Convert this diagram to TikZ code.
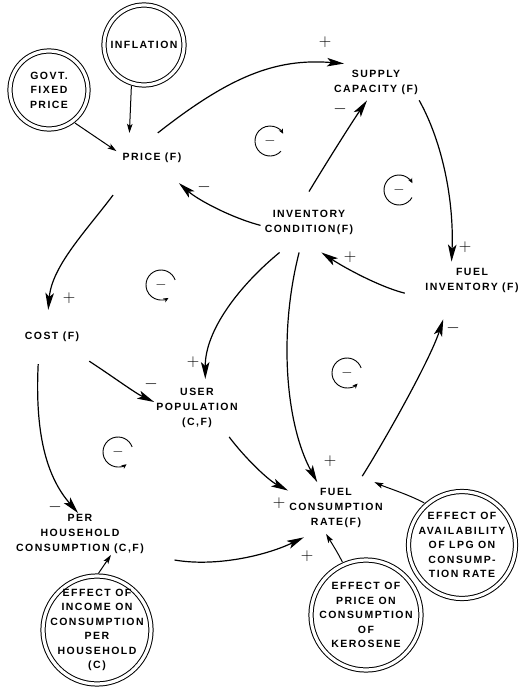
\documentclass[tikz,border=0pt]{standalone}
\usepackage{fontspec}
\usetikzlibrary{arrows.meta}
\newfontfamily\lettering[LetterSpace=14]{Liberation Sans}

\begin{document}
\begin{tikzpicture}[x=1pt, y=-1pt,
  var/.style={font=\lettering\bfseries\fontsize{10.5}{15}\selectfont, align=center},
  exo/.style={circle, draw, double, double distance=3.2pt, line width=1pt, inner sep=-25pt,
    font=\lettering\bfseries\fontsize{10.5}{14.5}\selectfont, align=center},
  link/.style={line width=1.2pt, -{Stealth[length=17pt, width=8.5pt, inset=4pt]}},
  feed/.style={line width=1pt, shorten <=2.6pt, -{Stealth[length=9pt, width=5.5pt, inset=2pt]}},
  sgn/.style={font=\LARGE, inner sep=0pt},
  cyc/.style={line width=0.9pt, -{Stealth[length=5pt, width=4.5pt]}}]
\useasboundingbox (0,0) rectangle (519,688);

% variables
\node[var, inner xsep=6pt, inner ysep=20pt] (price) at (152,158) {PRICE (F)};
\node[var, inner xsep=1pt, inner ysep=6pt] (supply) at (376,82) {SUPPLY\\CAPACITY (F)};
\node[var, inner xsep=4pt, inner ysep=18pt] (invcond) at (309,222) {INVENTORY\\CONDITION(F)};
\node[var, inner xsep=2pt, inner ysep=6pt] (fuelinv) at (472,280) {FUEL\\INVENTORY (F)};
\node[var, inner xsep=4pt, inner ysep=22pt] (cost) at (52,337) {COST (F)};
\node[var, inner xsep=2pt, inner ysep=9pt] (userpop) at (197,408) {USER\\POPULATION\\(C,F)};
\node[var, inner xsep=1pt, inner ysep=6pt] (fcr) at (336,508) {FUEL\\CONSUMPTION\\RATE(F)};
\node[var, inner sep=1pt] (perhh) at (80,534) {PER\\HOUSEHOLD\\CONSUMPTION (C,F)};

% outside inputs
\node[exo, minimum size=80pt] (inflation) at (144,45) {INFLATION};
\node[exo, minimum size=78pt] (govt) at (49,90) {GOVT.\\FIXED\\PRICE};
\node[exo, minimum size=108pt] (income) at (97,630) {EFFECT OF\\INCOME ON\\CONSUMPTION\\PER\\HOUSEHOLD\\(C)};
\node[exo, minimum size=110pt] (kerosene) at (366,615) {EFFECT OF\\PRICE ON\\CONSUMPTION\\OF\\KEROSENE};
\node[exo, minimum size=107pt] (lpg) at (462,545) {EFFECT OF\\AVAILABILITY\\OF LPG ON\\CONSUMP-\\TION RATE};

\draw[feed] (govt.-53) -- (price.169);
\draw[feed] (inflation.-108) -- (price.132);
\draw[feed] (income.90) -- (perhh.-34);
\draw[feed] (lpg.131) .. controls (410,495) and (385,487) .. (fcr.34);
\draw[feed] (kerosene.114) .. controls (338,553) and (331,542) .. (fcr.249);

% causal links
\draw[link] (price.77) .. controls (229,77) and (275,58) .. (supply.150);
\draw[link] (supply.-23) .. controls (443,143) and (454,202) .. (fuelinv.138);
\draw[link] (invcond.90) .. controls (325,165) and (352,122) .. (supply.244);
\draw[link] (invcond.184) .. controls (232,218) and (198,200) .. (price.-43);
\draw[link, shorten <=15pt] (price.220) .. controls (86,231) and (52,266) .. (cost.98);
\draw[link, shorten <=7pt] (cost.-33) .. controls (112,376) and (135,393) .. (userpop.172);
\draw[link] (cost.243) .. controls (35,430) and (45,475) .. (perhh.95);
\draw[link] (invcond.226) .. controls (240,285) and (205,330) .. (userpop.74);
\draw[link] (invcond.252) .. controls (278,335) and (286,425) .. (fcr.126);
\draw[link, shorten <=19pt] (fuelinv.200) .. controls (380,287) and (345,268) .. (invcond.-68);
\draw[link, shorten <=7pt, shorten >=22pt] (fcr.49) .. controls (385,440) and (430,360) .. (fuelinv.220);
\draw[link] (userpop.-42) .. controls (245,458) and (268,480) .. (fcr.160);
\draw[link, shorten <=30pt, shorten >=8pt] (perhh.south east) .. controls (215,567) and (265,556) .. (fcr.226);

% polarities
\node[sgn] (pricesupply) at (325,42) {$+$};
\node[sgn] (supplyinv) at (465,247) {$+$};
\node[sgn] (condsupply) at (340,109) {$-$};
\node[sgn] (condprice) at (204,187) {$-$};
\node[sgn] (pricecost) at (69,298) {$+$};
\node[sgn] (costuser) at (151,384) {$-$};
\node[sgn] (costhh) at (55,507) {$-$};
\node[sgn] (conduser) at (193,362) {$+$};
\node[sgn] (condrate) at (330,461) {$+$};
\node[sgn] (invcondp) at (350,257) {$+$};
\node[sgn] (rateinv) at (453,328) {$-$};
\node[sgn] (userrate) at (279,503) {$+$};
\node[sgn] (hhrate) at (307,556) {$+$};

% loop signs
\node[font=\Large] (loopa) at (270,141) {$-$};
\draw[cyc] (loopa.center) ++(-43:15pt) arc[start angle=-43, end angle=-331, radius=15pt];
\node[font=\Large] (loopb) at (399,190) {$-$};
\draw[cyc] (loopb.center) ++(-30:15pt) arc[start angle=-30, end angle=-333, radius=15pt];
\node[font=\Large] (loopc) at (161,285) {$-$};
\draw[cyc] (loopc.center) ++(20:15pt) arc[start angle=20, end angle=300, radius=15pt];
\node[font=\Large] (loopd) at (118,452) {$-$};
\draw[cyc] (loopd.center) ++(20:15pt) arc[start angle=20, end angle=305, radius=15pt];
\node[font=\Large] (loope) at (347,373) {$-$};
\draw[cyc] (loope.center) ++(20:15pt) arc[start angle=20, end angle=315, radius=15pt];
\end{tikzpicture}
\end{document}
